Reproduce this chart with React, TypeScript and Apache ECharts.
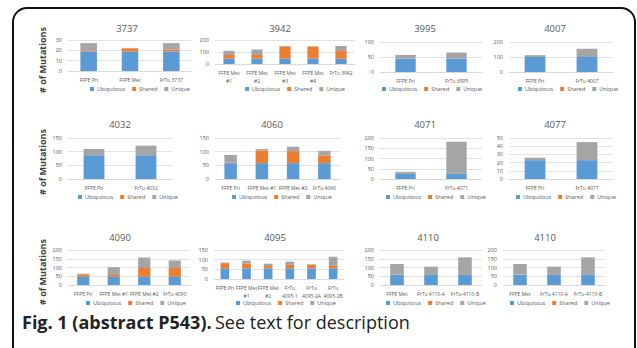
import { useEffect, useRef } from "react";
import * as echarts from "echarts";

const seriesNames = ["Ubiquitous", "Shared", "Unique"];
const seriesColors = ["#5B9BD5", "#ED7D31", "#A5A5A5"];

const titles = ["3737", "3942", "3995", "4007", "4032", "4060", "4071", "4077", "4090", "4095", "4110", "4110"];

const categories = [
  ["FFPE Pri", "FFPE Met", "FrTu 3737"],
  ["FFPE Met\n#1", "FFPE Met\n#2", "FFPE Met\n#3", "FFPE Met\n#4", "FrTu 3942"],
  ["FFPE Pri", "FrTu 3995"],
  ["FFPE Pri", "FrTu 4007"],
  ["FFPE Pri", "FrTu 4032"],
  ["FFPE Pri", "FFPE Met #1", "FFPE Met #2", "FrTu 4060"],
  ["FFPE Pri", "FrTu 4071"],
  ["FFPE Pri", "FrTu 4077"],
  ["FFPE Pri", "FFPE Met #1", "FFPE Met #2", "FrTu 4090"],
  ["FFPE Pri", "FFPE Met\n#1", "FFPE Met\n#2", "FrTu\n4095-1", "FrTu\n4095-2A", "FrTu\n4095-2B"],
  ["FFPE Met", "FrTu 4110-A", "FrTu-4110-B"],
  ["FFPE Met", "FrTu 4110-A", "FrTu-4110-B"],
];

const ubiquitous = [
  [19, 19, 19],
  [45, 45, 45, 45, 45],
  [45, 45],
  [100, 100],
  [87, 87],
  [58, 58, 58, 58],
  [25, 25],
  [23, 23],
  [47, 47, 47, 47],
  [55, 55, 55, 55, 55, 55],
  [58, 58, 58],
  [58, 58, 58],
];
const shared = [
  [1, 3, 2],
  [30, 30, 100, 100, 63],
  [0, 0],
  [0, 0],
  [0, 0],
  [2, 46, 44, 28],
  [0, 0],
  [0, 0],
  [13, 10, 50, 50],
  [27, 25, 12, 18, 18, 13],
  [2, 0, 0],
  [2, 0, 0],
];
const unique = [
  [7, 0, 6],
  [35, 45, 5, 3, 42],
  [12, 20],
  [12, 55],
  [23, 35],
  [28, 6, 16, 17],
  [10, 157],
  [3, 22],
  [5, 45, 60, 43],
  [3, 15, 12, 17, 3, 47],
  [60, 47, 100],
  [60, 47, 100],
];
const yMax = [30, 200, 100, 200, 150, 150, 200, 50, 200, 150, 200, 200];
const yInterval = [10, 100, 50, 100, 50, 50, 50, 10, 50, 50, 50, 50];

const yAxisTitle = "# of Mutations";

// layout: [left, top, width, height] of each plot area
const gridBoxes = [
  [68, 40, 124, 31],
  [215, 40, 140, 24],
  [380, 42, 102, 30],
  [509, 42, 104, 30],
  [68, 138, 104, 41],
  [215, 138, 125, 41],
  [380, 138, 102, 41],
  [509, 138, 104, 41],
  [68, 250, 122, 35],
  [214, 250, 130, 29],
  [380, 250, 102, 35],
  [503, 250, 102, 35],
];
const titlePos = [
  [127, 23], [280, 23], [425, 23], [555, 23],
  [120, 119], [272, 119], [425, 119], [555, 119],
  [120, 232], [275, 232], [428, 232], [545, 232],
];
const legendCenter = [
  [130, 90], [285, 90], [422, 90], [558, 90],
  [118, 198], [272, 198], [426, 198], [556, 198],
  [126, 304], [276, 304], [426, 304], [550, 304],
];
const yTitleCenters = [60, 162, 272];

const FONT = "'Open Sans', 'Liberation Sans', sans-serif";

export default function App() {
  const ref = useRef<HTMLDivElement>(null);
  useEffect(() => {
    document.body.style.margin = "0";
    const chart = echarts.init(ref.current!, null, { renderer: "svg" });
    const grid: any[] = [];
    const xAxis: any[] = [];
    const yAxis: any[] = [];
    const series: any[] = [];
    const title: any[] = [];
    const legend: any[] = [];
    const vals = [ubiquitous, shared, unique];
    for (let i = 0; i < titles.length; i++) {
      const [l, t, w, h] = gridBoxes[i];
      grid.push({ left: l, top: t, width: w, height: h });
      xAxis.push({
        type: "category",
        gridIndex: i,
        data: categories[i],
        axisLine: { lineStyle: { color: "#d9d9d9" } },
        axisTick: { show: false },
        axisLabel: { interval: 0, fontSize: 5, color: "#595959", margin: 5, lineHeight: 8, fontFamily: FONT },
      });
      yAxis.push({
        type: "value",
        gridIndex: i,
        min: 0,
        max: yMax[i],
        interval: yInterval[i],
        axisLine: { show: false },
        axisTick: { show: false },
        splitLine: { lineStyle: { color: "#d9d9d9", width: 0.8 } },
        axisLabel: { fontSize: 5.5, color: "#595959", margin: 6, fontFamily: FONT },
      });
      for (let k = 0; k < 3; k++) {
        series.push({
          type: "bar",
          name: seriesNames[k],
          xAxisIndex: i,
          yAxisIndex: i,
          stack: "s" + i,
          data: vals[k][i],
          barCategoryGap: "60%",
          itemStyle: { color: seriesColors[k] },
        });
      }
      title.push({
        text: titles[i],
        left: titlePos[i][0],
        top: titlePos[i][1],
        textAlign: "center",
        padding: 0,
        textStyle: { fontSize: 9.5, fontWeight: "normal", color: "#595959", fontFamily: FONT },
      });
      legend.push({
        data: seriesNames,
        left: legendCenter[i][0] - 40,
        top: legendCenter[i][1] - 4,
        padding: 0,
        itemWidth: 4,
        itemHeight: 4,
        itemGap: 7,
        icon: "rect",
        selectedMode: false,
        textStyle: { fontSize: 5.5, color: "#595959", padding: [0, 0, 0, -2], fontFamily: FONT },
      });
    }
    const graphic: any[] = [
      {
        type: "rect",
        shape: { x: 13, y: 8, width: 622, height: 400, r: 14 },
        style: { fill: "none", stroke: "#111", lineWidth: 2 },
        silent: true,
      },
      {
        type: "text",
        x: 22,
        y: 322,
        style: {
          text: "{b|Fig. 1 (abstract P543).} {n|See text for description}",
          verticalAlign: "middle",
          rich: {
            b: { fontSize: 18, fontWeight: "bold", fill: "#222", fontFamily: FONT },
            n: { fontSize: 18, fill: "#222", fontFamily: FONT },
          },
        },
      },
    ];
    yTitleCenters.forEach((cy) => {
      graphic.push({
        type: "text",
        x: 42,
        y: cy,
        rotation: Math.PI / 2,
        style: {
          text: yAxisTitle,
          align: "center",
          verticalAlign: "middle",
          fontSize: 9,
          fontWeight: "bold",
          fill: "#404040",
          fontFamily: FONT,
        },
      });
    });
    chart.setOption({
      animation: false,
      backgroundColor: "#fff",
      grid,
      xAxis,
      yAxis,
      series,
      title,
      legend,
      graphic,
    });
    return () => chart.dispose();
  }, []);
  return <div ref={ref} style={{ width: 637, height: 348 }} />;
}
